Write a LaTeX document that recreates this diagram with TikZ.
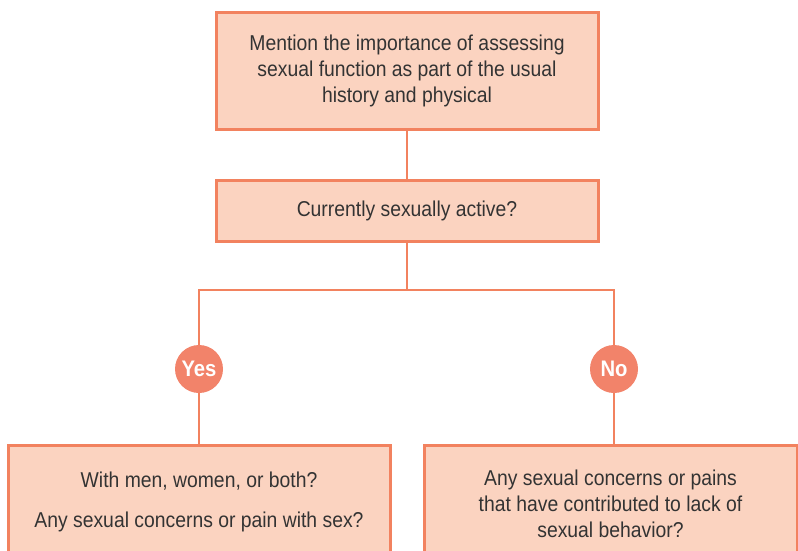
\documentclass[tikz,border=0pt]{standalone}
\usepackage{fontspec}
\setmainfont{Liberation Sans}[FakeStretch=0.9]
\usetikzlibrary{positioning,calc}
\definecolor{BoxFill}{HTML}{FBD3C0}
\definecolor{BoxLine}{HTML}{F2825F}
\definecolor{DotFill}{HTML}{F2836A}
\definecolor{TextGray}{HTML}{333333}

\begin{document}
\begin{tikzpicture}[x=1pt, y=-1pt,
  stepbox/.style={draw=BoxLine, line width=3pt, fill=BoxFill, text=TextGray, align=center,
    inner sep=0pt, font=\fontsize{21.5}{26}\selectfont},
  answer/.style={circle, fill=DotFill, minimum size=48pt, inner sep=0pt, text=white,
    font=\fontsize{22.5}{24}\selectfont\bfseries},
  link/.style={draw=BoxLine, line width=2pt}
]
\useasboundingbox (0,0) rectangle (798,550);
\clip (0,0) rectangle (798,550);
\node[stepbox, minimum width=382pt, minimum height=117pt] (intro) at (407,70.5)
  {Mention the importance of assessing\\sexual function as part of the usual\\history and physical};
\node[stepbox, minimum width=382pt, minimum height=61pt] (active) at (407,210.5)
  {Currently sexually active?};
\coordinate (split) at (407,290);
\node[answer] (yes) at (199,369) {Yes};
\node[answer] (no) at (614,369) {No};
\node[stepbox, minimum width=382pt, minimum height=112pt, anchor=north] (yesbox) at (199,444)
  {With men, women, or both?\\[14pt]Any sexual concerns or pain with sex?};
\node[stepbox, minimum width=373pt, minimum height=116pt, anchor=north] (nobox) at (610.5,444)
  {Any sexual concerns or pains\\that have contributed to lack of\\sexual behavior?};
% connectors
\draw[link] (intro) -- (active);
\draw[link] (active) -- (split);
\draw[link] (split) -| (yes);
\draw[link] (split) -| (no);
\draw[link] (yes) -- (yesbox);
\draw[link] (no) -- (no |- nobox.north);
\end{tikzpicture}
\end{document}
